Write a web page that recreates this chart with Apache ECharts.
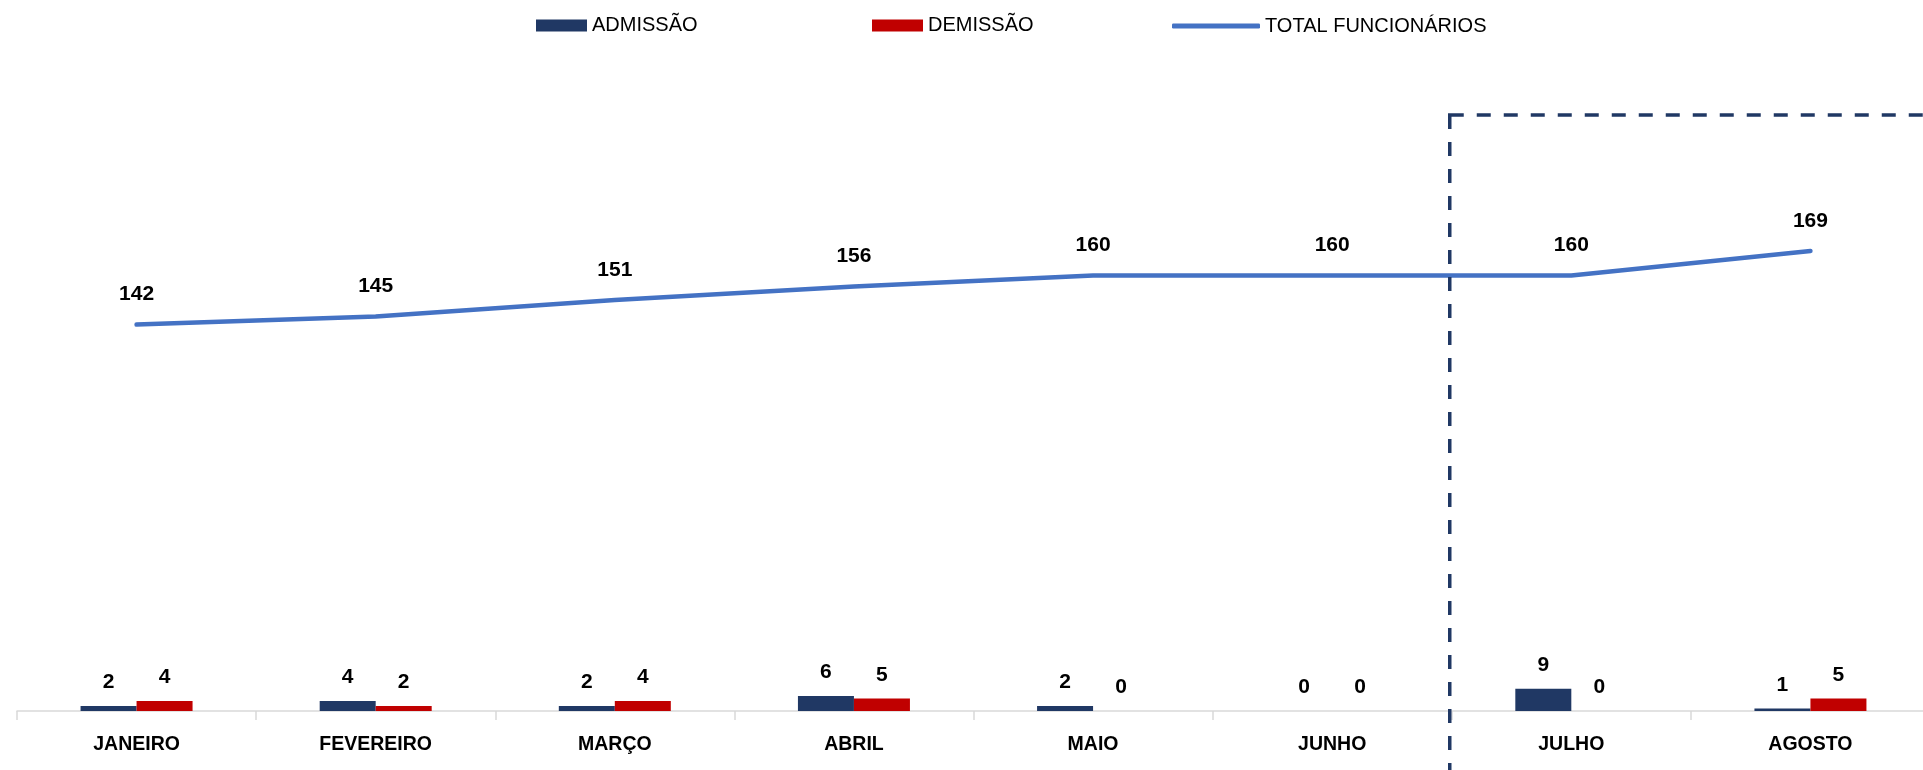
<!DOCTYPE html>
<html lang="pt-BR">
<head>
    <meta charset="utf-8">
    <title>Admissões e Demissões</title>
    <script src="https://cdn.jsdelivr.net/npm/echarts@6/dist/echarts.min.js"></script>
    <style>
        html, body {
            margin: 0;
            padding: 0;
            background: #fff;
        }

        #chart {
            width: 1923px;
            height: 770px;
        }
    </style>
</head>
<body>
    <div id="chart"></div>

<script>
    // dados
    var meses = ['JANEIRO', 'FEVEREIRO', 'MARÇO', 'ABRIL', 'MAIO', 'JUNHO', 'JULHO', 'AGOSTO'];
    var admissao = [2, 4, 2, 6, 2, 0, 9, 1];
    var demissao = [4, 2, 4, 5, 0, 0, 0, 5];
    var totalFuncionarios = [142, 145, 151, 156, 160, 160, 160, 169];

    var corAdmissao = '#203864';
    var corDemissao = '#C00000';
    var corTotal = '#4472C4';
    var fonte = '"Liberation Sans", Arial, sans-serif';

    var myChart = echarts.init(document.getElementById('chart'));

    var rotuloBarra = {
        show: true,
        position: 'top',
        distance: 13,
        color: '#000',
        fontFamily: fonte,
        fontWeight: 'bold',
        fontSize: 21
    };

    var option = {
        animation: false,
        legend: [
            {
                data: [{ name: 'ADMISSÃO', icon: 'rect' }],
                left: 536, top: 15.5, padding: 0,
                itemWidth: 51, itemHeight: 12,
                textStyle: { fontFamily: fonte, fontSize: 20, color: '#000' },
                selectedMode: false
            },
            {
                data: [{ name: 'DEMISSÃO', icon: 'rect' }],
                left: 872, top: 15.5, padding: 0,
                itemWidth: 51, itemHeight: 12,
                textStyle: { fontFamily: fonte, fontSize: 20, color: '#000' },
                selectedMode: false
            },
            {
                data: [{ name: 'TOTAL FUNCIONÁRIOS', icon: 'roundRect' }],
                left: 1172, top: 16, padding: 0,
                itemWidth: 88, itemHeight: 5,
                textStyle: { fontFamily: fonte, fontSize: 20, color: '#000' },
                selectedMode: false
            }
        ],
        grid: {
            left: 17,
            top: 115,
            width: 1913,
            bottom: 59,
            containLabel: false,
            outerBoundsMode: 'none'
        },
        xAxis: {
            type: 'category',
            data: meses,
            axisLine: { lineStyle: { color: '#D9D9D9', width: 1.5 } },
            axisTick: { show: true, length: 9, lineStyle: { color: '#D9D9D9', width: 1.5 } },
            axisLabel: {
                margin: 24,
                color: '#000',
                fontFamily: fonte,
                fontWeight: 'bold',
                fontSize: 19.5
            }
        },
        yAxis: [
            { type: 'value', min: 0, max: 240, show: false, splitLine: { show: false } },
            { type: 'value', min: 0, max: 219, show: false, splitLine: { show: false } }
        ],
        series: [
            {
                name: 'ADMISSÃO',
                type: 'bar',
                yAxisIndex: 0,
                barWidth: 56,
                barGap: '0%',
                itemStyle: { color: corAdmissao },
                label: rotuloBarra,
                data: admissao
            },
            {
                name: 'DEMISSÃO',
                type: 'bar',
                yAxisIndex: 0,
                barWidth: 56,
                barGap: '0%',
                itemStyle: { color: corDemissao },
                label: rotuloBarra,
                data: demissao
            },
            {
                name: 'TOTAL FUNCIONÁRIOS',
                type: 'line',
                yAxisIndex: 1,
                symbol: 'circle',
                symbolSize: 1,
                showSymbol: true,
                itemStyle: { color: corTotal },
                lineStyle: { color: corTotal, width: 4.5, cap: 'round', join: 'round' },
                label: {
                    show: true,
                    position: 'top',
                    distance: 19,
                    color: '#000',
                    fontFamily: fonte,
                    fontWeight: 'bold',
                    fontSize: 21
                },
                data: totalFuncionarios
            }
        ]
    };

    myChart.setOption(option);

    // caixa tracejada a partir de JULHO
    var xJunho = myChart.convertToPixel({ xAxisIndex: 0 }, 'JUNHO');
    var xJulho = myChart.convertToPixel({ xAxisIndex: 0 }, 'JULHO');
    var yTopo = myChart.convertToPixel({ yAxisIndex: 1 }, 219);
    var xCaixa = (xJunho + xJulho) / 2 - 2;

    myChart.setOption({
        graphic: [{
            type: 'rect',
            z: 100,
            shape: { x: xCaixa, y: yTopo, width: 700, height: 900 },
            style: {
                fill: null,
                stroke: corAdmissao,
                lineWidth: 3.5,
                lineDash: [14, 13]
            },
            silent: true
        }]
    });
</script>
</body>
</html>
